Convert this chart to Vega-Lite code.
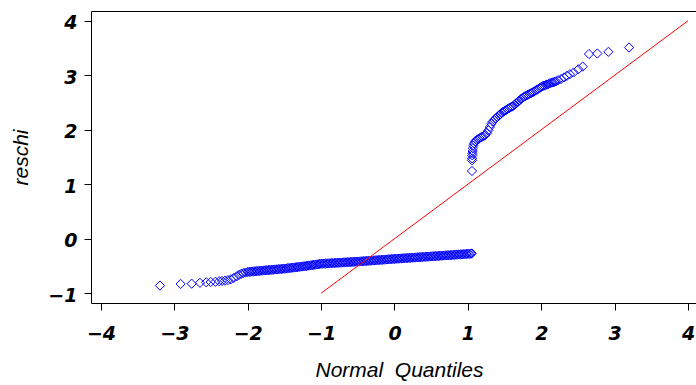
{
"$schema": "https://vega.github.io/schema/vega-lite/v6.json",
"width": 605, "height": 292, "autosize": "none",
"padding": {"left": 91, "top": 11, "right": 0, "bottom": 82},
"background": "white",
"config": {
 "view": {"stroke": null},
 "axis": {"domainColor": "#000000", "domainWidth": 1, "tickColor": "#000000", "tickWidth": 1, "tickSize": 7, "grid": false,
  "labelFont": "DejaVu Sans", "labelFontWeight": "bold", "labelFontStyle": "italic", "labelFontSize": 19, "labelColor": "#000000",
  "titleFont": "Liberation Sans", "titleFontWeight": "normal", "titleFontStyle": "italic", "titleFontSize": 21, "titleColor": "#000000"}
},
"datasets": {
 "pts": [
  {"quantile": -3.196, "reschi": -0.86}, {"quantile": -2.915, "reschi": -0.83}, {"quantile": -2.764, "reschi": -0.826}, {"quantile": -2.651, "reschi": -0.81},
  {"quantile": -2.565, "reschi": -0.80}, {"quantile": -2.505, "reschi": -0.795}, {"quantile": -2.44, "reschi": -0.79}, {"quantile": -2.39, "reschi": -0.78},
  {"quantile": -2.35, "reschi": -0.775}, {"quantile": -2.31, "reschi": -0.77}, {"quantile": -2.27, "reschi": -0.76}, {"quantile": -2.23, "reschi": -0.745},
  {"quantile": -2.19, "reschi": -0.72}, {"quantile": -2.15, "reschi": -0.69}, {"quantile": -2.12, "reschi": -0.665}, {"quantile": -2.09, "reschi": -0.645},
  {"quantile": -2.06, "reschi": -0.63}, {"quantile": -2.03, "reschi": -0.62},
  {"quantile": -2.00, "reschi": -0.610}, {"quantile": -1.98, "reschi": -0.608}, {"quantile": -1.96, "reschi": -0.605}, {"quantile": -1.94, "reschi": -0.603},
  {"quantile": -1.92, "reschi": -0.600}, {"quantile": -1.90, "reschi": -0.598}, {"quantile": -1.88, "reschi": -0.595}, {"quantile": -1.86, "reschi": -0.593},
  {"quantile": -1.84, "reschi": -0.590}, {"quantile": -1.82, "reschi": -0.588}, {"quantile": -1.80, "reschi": -0.585}, {"quantile": -1.78, "reschi": -0.583},
  {"quantile": -1.76, "reschi": -0.580}, {"quantile": -1.74, "reschi": -0.578}, {"quantile": -1.72, "reschi": -0.576}, {"quantile": -1.70, "reschi": -0.573},
  {"quantile": -1.68, "reschi": -0.571}, {"quantile": -1.66, "reschi": -0.569}, {"quantile": -1.64, "reschi": -0.566}, {"quantile": -1.62, "reschi": -0.564},
  {"quantile": -1.60, "reschi": -0.562}, {"quantile": -1.58, "reschi": -0.559}, {"quantile": -1.56, "reschi": -0.557}, {"quantile": -1.54, "reschi": -0.555},
  {"quantile": -1.52, "reschi": -0.552}, {"quantile": -1.50, "reschi": -0.550}, {"quantile": -1.48, "reschi": -0.547}, {"quantile": -1.46, "reschi": -0.543},
  {"quantile": -1.44, "reschi": -0.540}, {"quantile": -1.42, "reschi": -0.537}, {"quantile": -1.40, "reschi": -0.533}, {"quantile": -1.38, "reschi": -0.530},
  {"quantile": -1.36, "reschi": -0.527}, {"quantile": -1.34, "reschi": -0.523}, {"quantile": -1.32, "reschi": -0.520}, {"quantile": -1.30, "reschi": -0.517},
  {"quantile": -1.28, "reschi": -0.513}, {"quantile": -1.26, "reschi": -0.510}, {"quantile": -1.24, "reschi": -0.507}, {"quantile": -1.22, "reschi": -0.503},
  {"quantile": -1.20, "reschi": -0.500}, {"quantile": -1.18, "reschi": -0.496}, {"quantile": -1.16, "reschi": -0.492}, {"quantile": -1.14, "reschi": -0.488},
  {"quantile": -1.12, "reschi": -0.484}, {"quantile": -1.10, "reschi": -0.480}, {"quantile": -1.08, "reschi": -0.476}, {"quantile": -1.06, "reschi": -0.472},
  {"quantile": -1.04, "reschi": -0.468}, {"quantile": -1.02, "reschi": -0.464}, {"quantile": -1.00, "reschi": -0.460}, {"quantile": -0.98, "reschi": -0.458},
  {"quantile": -0.96, "reschi": -0.457}, {"quantile": -0.94, "reschi": -0.455}, {"quantile": -0.92, "reschi": -0.454}, {"quantile": -0.90, "reschi": -0.452},
  {"quantile": -0.88, "reschi": -0.450}, {"quantile": -0.86, "reschi": -0.449}, {"quantile": -0.84, "reschi": -0.447}, {"quantile": -0.82, "reschi": -0.446},
  {"quantile": -0.80, "reschi": -0.444}, {"quantile": -0.78, "reschi": -0.442}, {"quantile": -0.76, "reschi": -0.441}, {"quantile": -0.74, "reschi": -0.439},
  {"quantile": -0.72, "reschi": -0.438}, {"quantile": -0.70, "reschi": -0.436}, {"quantile": -0.68, "reschi": -0.434}, {"quantile": -0.66, "reschi": -0.433},
  {"quantile": -0.64, "reschi": -0.431}, {"quantile": -0.62, "reschi": -0.430}, {"quantile": -0.60, "reschi": -0.428}, {"quantile": -0.58, "reschi": -0.426},
  {"quantile": -0.56, "reschi": -0.425}, {"quantile": -0.54, "reschi": -0.423}, {"quantile": -0.52, "reschi": -0.422}, {"quantile": -0.50, "reschi": -0.420},
  {"quantile": -0.48, "reschi": -0.418}, {"quantile": -0.46, "reschi": -0.416}, {"quantile": -0.44, "reschi": -0.414}, {"quantile": -0.42, "reschi": -0.412},
  {"quantile": -0.40, "reschi": -0.410}, {"quantile": -0.38, "reschi": -0.408}, {"quantile": -0.36, "reschi": -0.406}, {"quantile": -0.34, "reschi": -0.404},
  {"quantile": -0.32, "reschi": -0.402}, {"quantile": -0.30, "reschi": -0.400}, {"quantile": -0.28, "reschi": -0.398}, {"quantile": -0.26, "reschi": -0.396},
  {"quantile": -0.24, "reschi": -0.394}, {"quantile": -0.22, "reschi": -0.392}, {"quantile": -0.20, "reschi": -0.390}, {"quantile": -0.18, "reschi": -0.388},
  {"quantile": -0.16, "reschi": -0.386}, {"quantile": -0.14, "reschi": -0.384}, {"quantile": -0.12, "reschi": -0.382}, {"quantile": -0.10, "reschi": -0.380},
  {"quantile": -0.08, "reschi": -0.378}, {"quantile": -0.06, "reschi": -0.376}, {"quantile": -0.04, "reschi": -0.374}, {"quantile": -0.02, "reschi": -0.372},
  {"quantile": 0.00, "reschi": -0.370}, {"quantile": 0.02, "reschi": -0.368}, {"quantile": 0.04, "reschi": -0.366}, {"quantile": 0.06, "reschi": -0.365},
  {"quantile": 0.08, "reschi": -0.363}, {"quantile": 0.10, "reschi": -0.361}, {"quantile": 0.12, "reschi": -0.359}, {"quantile": 0.14, "reschi": -0.357},
  {"quantile": 0.16, "reschi": -0.356}, {"quantile": 0.18, "reschi": -0.354}, {"quantile": 0.20, "reschi": -0.352}, {"quantile": 0.22, "reschi": -0.350},
  {"quantile": 0.24, "reschi": -0.348}, {"quantile": 0.26, "reschi": -0.347}, {"quantile": 0.28, "reschi": -0.345}, {"quantile": 0.30, "reschi": -0.343},
  {"quantile": 0.32, "reschi": -0.341}, {"quantile": 0.34, "reschi": -0.339}, {"quantile": 0.36, "reschi": -0.338}, {"quantile": 0.38, "reschi": -0.336},
  {"quantile": 0.40, "reschi": -0.334}, {"quantile": 0.42, "reschi": -0.332}, {"quantile": 0.44, "reschi": -0.330}, {"quantile": 0.46, "reschi": -0.329},
  {"quantile": 0.48, "reschi": -0.327}, {"quantile": 0.50, "reschi": -0.325}, {"quantile": 0.52, "reschi": -0.323}, {"quantile": 0.54, "reschi": -0.321},
  {"quantile": 0.56, "reschi": -0.319}, {"quantile": 0.58, "reschi": -0.317}, {"quantile": 0.60, "reschi": -0.316}, {"quantile": 0.62, "reschi": -0.314},
  {"quantile": 0.64, "reschi": -0.312}, {"quantile": 0.66, "reschi": -0.310}, {"quantile": 0.68, "reschi": -0.308}, {"quantile": 0.70, "reschi": -0.306},
  {"quantile": 0.72, "reschi": -0.304}, {"quantile": 0.74, "reschi": -0.302}, {"quantile": 0.76, "reschi": -0.301}, {"quantile": 0.78, "reschi": -0.299},
  {"quantile": 0.80, "reschi": -0.297}, {"quantile": 0.82, "reschi": -0.295}, {"quantile": 0.84, "reschi": -0.293}, {"quantile": 0.86, "reschi": -0.291},
  {"quantile": 0.88, "reschi": -0.289}, {"quantile": 0.90, "reschi": -0.287}, {"quantile": 0.92, "reschi": -0.286}, {"quantile": 0.94, "reschi": -0.284},
  {"quantile": 0.96, "reschi": -0.282}, {"quantile": 0.98, "reschi": -0.280}, {"quantile": 1.00, "reschi": -0.278}, {"quantile": 1.02, "reschi": -0.276},
  {"quantile": 1.04, "reschi": -0.273}, {"quantile": 1.053, "reschi": -0.270},
  {"quantile": 1.056, "reschi": 1.243}, {"quantile": 1.057, "reschi": 1.44}, {"quantile": 1.058, "reschi": 1.475}, {"quantile": 1.060, "reschi": 1.53},
  {"quantile": 1.062, "reschi": 1.567}, {"quantile": 1.065, "reschi": 1.61}, {"quantile": 1.068, "reschi": 1.66}, {"quantile": 1.075, "reschi": 1.71},
  {"quantile": 1.085, "reschi": 1.75}, {"quantile": 1.10, "reschi": 1.79}, {"quantile": 1.12, "reschi": 1.81}, {"quantile": 1.14, "reschi": 1.83},
  {"quantile": 1.16, "reschi": 1.845}, {"quantile": 1.18, "reschi": 1.86}, {"quantile": 1.20, "reschi": 1.875}, {"quantile": 1.22, "reschi": 1.89},
  {"quantile": 1.24, "reschi": 1.905}, {"quantile": 1.26, "reschi": 1.94}, {"quantile": 1.28, "reschi": 1.99}, {"quantile": 1.30, "reschi": 2.05},
  {"quantile": 1.32, "reschi": 2.11}, {"quantile": 1.34, "reschi": 2.15}, {"quantile": 1.36, "reschi": 2.18}, {"quantile": 1.38, "reschi": 2.21},
  {"quantile": 1.40, "reschi": 2.23}, {"quantile": 1.42, "reschi": 2.26}, {"quantile": 1.44, "reschi": 2.28}, {"quantile": 1.46, "reschi": 2.31},
  {"quantile": 1.48, "reschi": 2.33}, {"quantile": 1.50, "reschi": 2.345}, {"quantile": 1.52, "reschi": 2.36}, {"quantile": 1.54, "reschi": 2.38},
  {"quantile": 1.56, "reschi": 2.395}, {"quantile": 1.58, "reschi": 2.41}, {"quantile": 1.60, "reschi": 2.425}, {"quantile": 1.62, "reschi": 2.44},
  {"quantile": 1.64, "reschi": 2.465}, {"quantile": 1.66, "reschi": 2.49}, {"quantile": 1.68, "reschi": 2.51}, {"quantile": 1.70, "reschi": 2.535},
  {"quantile": 1.72, "reschi": 2.56}, {"quantile": 1.74, "reschi": 2.58}, {"quantile": 1.76, "reschi": 2.60}, {"quantile": 1.78, "reschi": 2.615},
  {"quantile": 1.80, "reschi": 2.63}, {"quantile": 1.82, "reschi": 2.645}, {"quantile": 1.84, "reschi": 2.66}, {"quantile": 1.86, "reschi": 2.67},
  {"quantile": 1.88, "reschi": 2.685}, {"quantile": 1.90, "reschi": 2.70}, {"quantile": 1.92, "reschi": 2.72}, {"quantile": 1.94, "reschi": 2.735},
  {"quantile": 1.96, "reschi": 2.75}, {"quantile": 1.98, "reschi": 2.77}, {"quantile": 2.00, "reschi": 2.785}, {"quantile": 2.02, "reschi": 2.80},
  {"quantile": 2.04, "reschi": 2.81}, {"quantile": 2.06, "reschi": 2.82}, {"quantile": 2.08, "reschi": 2.83}, {"quantile": 2.10, "reschi": 2.84},
  {"quantile": 2.12, "reschi": 2.855}, {"quantile": 2.14, "reschi": 2.865}, {"quantile": 2.16, "reschi": 2.87}, {"quantile": 2.18, "reschi": 2.88},
  {"quantile": 2.20, "reschi": 2.89}, {"quantile": 2.23, "reschi": 2.91}, {"quantile": 2.27, "reschi": 2.93}, {"quantile": 2.31, "reschi": 2.96},
  {"quantile": 2.35, "reschi": 2.99}, {"quantile": 2.39, "reschi": 3.02}, {"quantile": 2.44, "reschi": 3.05}, {"quantile": 2.505, "reschi": 3.11},
  {"quantile": 2.565, "reschi": 3.16}, {"quantile": 2.651, "reschi": 3.39}, {"quantile": 2.764, "reschi": 3.40}, {"quantile": 2.915, "reschi": 3.43},
  {"quantile": 3.196, "reschi": 3.51}
 ],
 "ref": [{"quantile": -1, "reschi": -1}, {"quantile": 4, "reschi": 4}]
},
"layer": [
 {
  "data": {"name": "pts"},
  "mark": {"type": "point", "shape": "diamond", "size": 85, "filled": false, "color": "#0000ff", "strokeWidth": 1, "opacity": 1},
  "encoding": {
   "x": {"field": "quantile", "type": "quantitative", "scale": {"domain": [-4.136, 4.109], "nice": false, "zero": false},
    "axis": {"orient": "bottom", "values": [-4, -3, -2, -1, 0, 1, 2, 3, 4], "format": "d", "labelPadding": 14, "title": "Normal\u00a0\u00a0Quantiles",
     "titleX": 308, "titleY": 73, "titleBaseline": "alphabetic", "titleAlign": "center"}},
   "y": {"field": "reschi", "type": "quantitative", "scale": {"domain": [-1.18, 4.18], "nice": false, "zero": false},
    "axis": {"values": [-1, 0, 1, 2, 3, 4], "format": "d", "labelPadding": 7, "labelOffset": 2, "labelBaseline": "middle", "title": "reschi",
     "titleAngle": -90, "titleX": -64, "titleY": 146, "titleBaseline": "alphabetic", "titleAlign": "center"}}
  }
 },
 {
  "data": {"name": "ref"},
  "mark": {"type": "line", "color": "#ff0000", "strokeWidth": 1},
  "encoding": {
   "x": {"field": "quantile", "type": "quantitative", "scale": {"domain": [-4.136, 4.109], "nice": false, "zero": false},
    "axis": {"orient": "top", "ticks": false, "labels": false, "title": null, "domain": true}},
   "y": {"field": "reschi", "type": "quantitative"}
  }
 }
],
"resolve": {"axis": {"x": "independent"}}
}
